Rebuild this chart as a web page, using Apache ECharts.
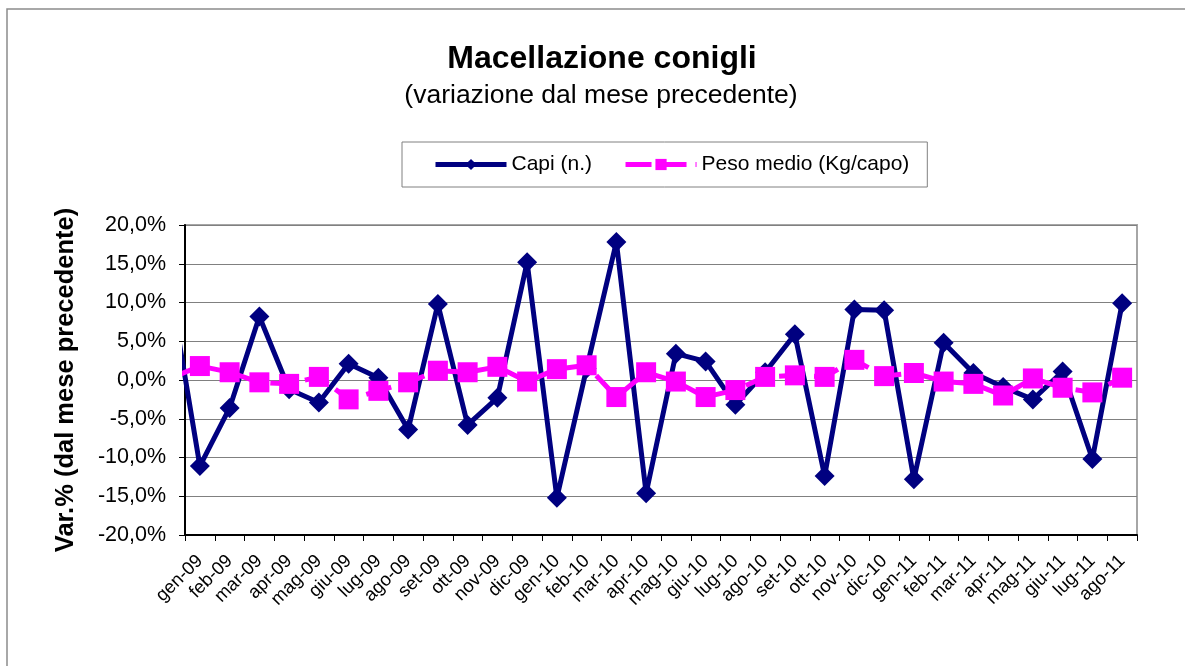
<!DOCTYPE html>
<html>
<head>
<meta charset="utf-8">
<title>Macellazione conigli</title>
<script src="https://cdn.jsdelivr.net/npm/echarts@6/dist/echarts.min.js"></script>
<style>
    html, body { margin: 0; padding: 0; background: #fff; }
    #chart { width: 1185px; height: 666px; }
</style>
</head>
<body>
<div id="chart"></div>
<script>
// mesi mostrati sull'asse
var months = ['gen-09', 'feb-09', 'mar-09', 'apr-09', 'mag-09', 'giu-09', 'lug-09', 'ago-09',
    'set-09', 'ott-09', 'nov-09', 'dic-09', 'gen-10', 'feb-10', 'mar-10', 'apr-10',
    'mag-10', 'giu-10', 'lug-10', 'ago-10', 'set-10', 'ott-10', 'nov-10', 'dic-10',
    'gen-11', 'feb-11', 'mar-11', 'apr-11', 'mag-11', 'giu-11', 'lug-11', 'ago-11'];

// var.% dal mese precedente
var capi = [-11.1, -3.6, 8.2, -1.2, -2.9, 2.1, 0.3, -6.4,
    9.8, -5.8, -2.3, 15.2, -15.2, 1.5, 17.8, -14.6,
    3.4, 2.4, -3.2, 1.0, 5.9, -12.4, 9.1, 9.0,
    -12.8, 4.8, 0.9, -0.9, -2.5, 1.1, -10.2, 9.9];
var peso = [1.8, 1.0, -0.3, -0.5, 0.4, -2.5, -1.4, -0.3,
    1.2, 1.0, 1.7, -0.2, 1.4, 1.9, -2.2, 1.0,
    -0.2, -2.2, -1.3, 0.4, 0.6, 0.4, 2.6, 0.5,
    0.9, -0.2, -0.5, -2.0, 0.2, -1.0, -1.6, 0.3];

// dic-08, fuori dal grafico: si vede solo il tratto che entra da sinistra
var capiDic08 = 12.0;
var pesoDic08 = 0.2;

var yTicks = [-20, -15, -10, -5, 0, 5, 10, 15, 20];

function toPoints(first, values) {
    var pts = [[-0.5, first]];
    values.forEach(function (v, i) {
        pts.push([i + 0.5, v]);
    });
    return pts;
}

var font = 'Liberation Sans, Arial, sans-serif';

var chart = echarts.init(document.getElementById('chart'));
chart.setOption({
    backgroundColor: '#fff',
    animation: false,
    title: [{
        text: 'Macellazione conigli',
        left: 597,
        top: 38,
        textAlign: 'center',
        textStyle: { fontFamily: font, fontSize: 32, fontWeight: 'bold', color: '#000' }
    }, {
        text: '(variazione dal mese precedente)',
        left: 596,
        top: 77,
        textAlign: 'center',
        textStyle: { fontFamily: font, fontSize: 26.5, fontWeight: 'normal', color: '#000' }
    }],
    legend: {
        left: 402,
        top: 142,
        padding: [12, 18, 12, 31],
        itemWidth: 71,
        itemHeight: 14,
        itemGap: 31,
        borderColor: '#808080',
        borderWidth: 1,
        lineStyle: { width: 5 },
        textStyle: { fontFamily: font, fontSize: 21, color: '#000' },
        data: ['Capi (n.)', 'Peso medio (Kg/capo)']
    },
    grid: {
        left: 185,
        right: 48,
        top: 225,
        bottom: 131,
        show: true,
        borderColor: '#a6a6a6',
        borderWidth: 2
    },
    xAxis: [{
        type: 'category',
        data: months,
        boundaryGap: true,
        axisLine: { onZero: false, lineStyle: { color: '#000', width: 2 } },
        axisTick: { show: true, inside: false, length: 6, lineStyle: { color: '#000' } },
        axisLabel: {
            rotate: 45,
            interval: 0,
            margin: 23,
            fontFamily: font,
            fontSize: 18.5,
            color: '#000'
        },
        splitLine: { show: false }
    }, {
        type: 'value',
        min: 0,
        max: months.length,
        show: false
    }],
    yAxis: {
        type: 'value',
        min: yTicks[0],
        max: yTicks[yTicks.length - 1],
        interval: 5,
        name: 'Var.% (dal mese precedente)',
        nameLocation: 'middle',
        nameGap: 106,
        nameTextStyle: { fontFamily: font, fontSize: 25.5, fontWeight: 'bold', color: '#000' },
        axisLine: { show: true, onZero: false, lineStyle: { color: '#000', width: 2 } },
        axisTick: { show: true, inside: false, length: 6, lineStyle: { color: '#000' } },
        axisLabel: {
            margin: 19,
            fontFamily: font,
            fontSize: 21.5,
            color: '#000',
            formatter: function (v) {
                return v.toFixed(1).replace('.', ',') + '%';
            }
        },
        splitLine: { show: true, lineStyle: { color: '#808080', width: 1 } }
    },
    graphic: [{
        type: 'rect',
        shape: { x: 7, y: 9, width: 1300, height: 800 },
        style: { fill: 'none', stroke: '#8c8c8c', lineWidth: 1.5 },
        silent: true
    }],
    series: [{
        name: 'Capi (n.)',
        type: 'line',
        xAxisIndex: 1,
        data: toPoints(capiDic08, capi),
        clip: true,
        symbol: 'diamond',
        symbolSize: 20,
        lineStyle: { color: '#000080', width: 5 },
        itemStyle: { color: '#000080' },
        z: 2
    }, {
        name: 'Peso medio (Kg/capo)',
        type: 'line',
        xAxisIndex: 1,
        data: toPoints(pesoDic08, peso),
        clip: true,
        symbol: 'rect',
        symbolSize: 20,
        lineStyle: { color: '#ff00ff', width: 5, type: [26, 9] },
        itemStyle: { color: '#ff00ff' },
        z: 3
    }]
});
</script>
</body>
</html>
